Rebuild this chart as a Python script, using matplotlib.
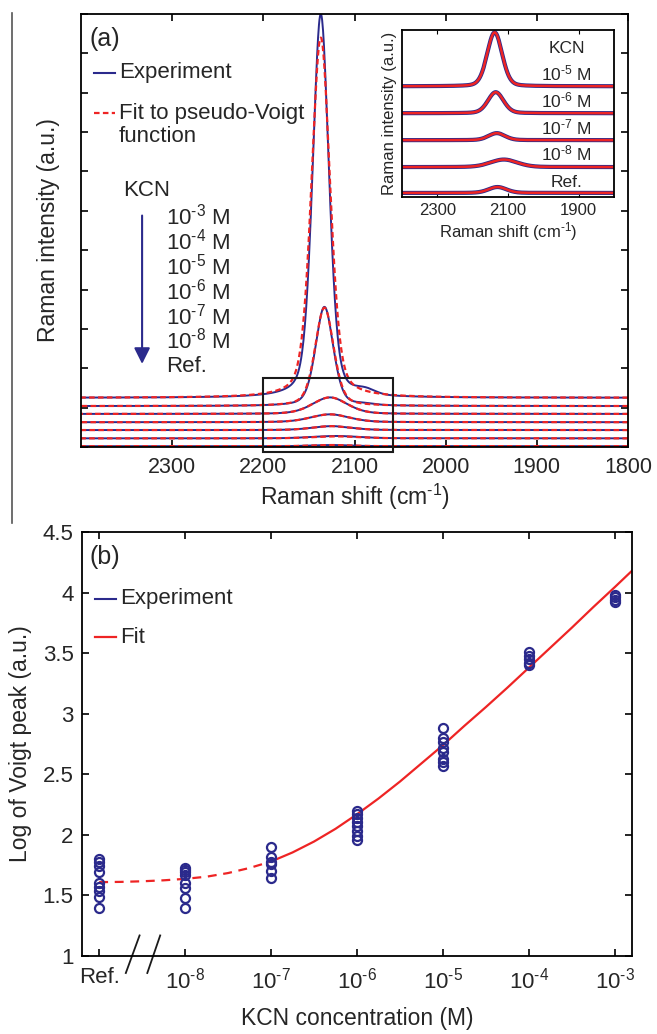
import numpy as np
import matplotlib.pyplot as plt
from matplotlib.lines import Line2D
from matplotlib.patches import Rectangle

plt.rcParams['font.family'] = ['Liberation Sans', 'DejaVu Sans']
plt.rcParams['mathtext.fontset'] = 'custom'
plt.rcParams['mathtext.rm'] = 'Liberation Sans'
plt.rcParams['mathtext.it'] = 'Liberation Sans'

NAVY = '#2b2a8c'
RED = '#ee2424'
TXT = '#262626'

# ---- panel (a): spectra, top to bottom ----
conc_labels = [r'10$^{\text{-3}}$ M', r'10$^{\text{-4}}$ M', r'10$^{\text{-5}}$ M',
               r'10$^{\text{-6}}$ M', r'10$^{\text{-7}}$ M', r'10$^{\text{-8}}$ M', 'Ref.']
offsets = [1.25, 1.04, 0.84, 0.63, 0.43, 0.22, 0.02]
fit_amp = [9.15, 2.50, 0.42, 0.20, 0.10, 0.05, 0.03]
exp_amp = [9.75, 2.52, 0.42, 0.20, 0.10, 0.06, 0.03]
centers = [2137, 2133, 2127, 2127, 2125, 2120, 2125]
fit_fwhm = [24, 24, 45, 50, 50, 60, 50]
exp_fwhm = [21, 23, 45, 50, 50, 60, 50]
eta = [0.35, 0.35, 0.30, 0.30, 0.30, 0.30, 0.30]
# small shoulder seen in the 10^-3 experiment only
shoulder_amp = [0.12, 0.03, 0, 0, 0, 0, 0]
shoulder_pos = 2088

# inset (10^-5 .. Ref)
inset_labels = [r'10$^{\text{-5}}$ M', r'10$^{\text{-6}}$ M', r'10$^{\text{-7}}$ M',
                r'10$^{\text{-8}}$ M', 'Ref.']
inset_offsets = [4.11, 3.11, 2.11, 1.11, 0.15]
inset_amp = [2.00, 0.78, 0.26, 0.28, 0.22]
inset_center = [2138, 2135, 2132, 2112, 2130]
inset_fwhm = [50, 52, 55, 90, 60]

# ---- panel (b): Voigt peak vs concentration ----
xcat_labels = ['Ref.', r'10$^{\text{-8}}$', r'10$^{\text{-7}}$', r'10$^{\text{-6}}$',
               r'10$^{\text{-5}}$', r'10$^{\text{-4}}$', r'10$^{\text{-3}}$']
peaks = [
    [1.80, 1.78, 1.74, 1.69, 1.60, 1.57, 1.54, 1.49, 1.40],
    [1.73, 1.71, 1.69, 1.67, 1.60, 1.56, 1.48, 1.40],
    [1.90, 1.82, 1.78, 1.76, 1.70, 1.64],
    [2.20, 2.17, 2.14, 2.11, 2.07, 2.03, 1.99, 1.96],
    [2.88, 2.80, 2.77, 2.72, 2.68, 2.63, 2.60, 2.57],
    [3.51, 3.48, 3.45, 3.42, 3.40],
    [3.98, 3.96, 3.94, 3.92],
]
fit_x = [0, 0.25, 0.5, 0.75, 1, 1.25, 1.5, 1.75, 2, 2.25, 2.5, 2.75, 3, 3.25,
         3.5, 3.75, 4, 4.25, 4.5, 4.75, 5, 5.25, 5.5, 5.75, 6, 6.2]
fit_y = [1.61, 1.612, 1.617, 1.625, 1.637, 1.655, 1.685, 1.727, 1.78, 1.855, 1.945,
         2.05, 2.17, 2.30, 2.44, 2.59, 2.74, 2.90, 3.055, 3.215, 3.38, 3.545, 3.71,
         3.88, 4.045, 4.18]


def pseudo_voigt(x, amp, c, fwhm, eta):
    u = (x - c) / (fwhm / 2.0)
    return amp * (eta / (1 + u ** 2) + (1 - eta) * np.exp(-np.log(2) * u ** 2))


wn = np.linspace(1800, 2400, 1201)

fig = plt.figure(figsize=(6.57, 10.34), dpi=100)

# ================= (a) =================
ax = fig.add_axes([0.1233, 0.5677, 0.8326, 0.4188])
for i in range(len(offsets)):
    yexp = offsets[i] + pseudo_voigt(wn, exp_amp[i], centers[i], exp_fwhm[i], eta[i])
    yexp += pseudo_voigt(wn, shoulder_amp[i], shoulder_pos, 25, 0.0)
    yfit = offsets[i] + pseudo_voigt(wn, fit_amp[i], centers[i], fit_fwhm[i], eta[i])
    ax.plot(wn, yexp, color=NAVY, lw=1.4)
    ax.plot(wn, yfit, color=RED, lw=1.6, ls=(0, (2.5, 1.5)))

ax.set_xlim(2400, 1800)
ax.set_ylim(0, 11)
ax.set_xticks([2300, 2200, 2100, 2000, 1900, 1800])
ax.set_yticks(np.arange(0, 12, 1))
ax.set_yticklabels([])
ax.tick_params(direction='in', top=True, right=True, length=5, width=1.2,
               labelsize=15.5, labelcolor=TXT, pad=7)
for s in ax.spines.values():
    s.set_linewidth(1.3)
ax.set_xlabel(r'Raman shift (cm$^{\text{-1}}$)', fontsize=16.5, color=TXT, labelpad=3)
ax.set_ylabel('Raman intensity (a.u.)', fontsize=16.5, color=TXT, labelpad=8)

ax.add_patch(Rectangle((2200, -0.13), -142, 1.89, fill=False, ec='#1a1a1a',
                       lw=1.5, clip_on=False, zorder=5))

# legend drawn by hand
ax.plot([0.024, 0.062], [0.864, 0.864], transform=ax.transAxes, color=NAVY, lw=1.5)
ax.plot([0.024, 0.062], [0.771, 0.771], transform=ax.transAxes, color=RED, lw=1.6,
        ls=(0, (2.5, 1.5)))
ax.text(0.069, 0.864, 'Experiment', transform=ax.transAxes, va='center', fontsize=16, color=TXT)
ax.text(0.069, 0.771, 'Fit to pseudo-Voigt', transform=ax.transAxes, va='center',
        fontsize=16, color=TXT)
ax.text(0.069, 0.716, 'function', transform=ax.transAxes, va='center', fontsize=16, color=TXT)
ax.text(0.015, 0.942, '(a)', transform=ax.transAxes, va='center', fontsize=18, color=TXT)

ax.text(2354, 6.51, 'KCN', va='center', ha='left', fontsize=16, color=TXT)
label_y = [5.85, 5.22, 4.58, 3.94, 3.31, 2.70, 2.04]
for lab, yy in zip(conc_labels, label_y):
    ax.text(2307, yy, lab, va='center', ha='left', fontsize=16, color=TXT)
ax.annotate('', xy=(2333, 2.04), xytext=(2333, 5.95),
            arrowprops=dict(arrowstyle='-|>', color=NAVY, lw=1.5, mutation_scale=24))

# inset
axi = fig.add_axes([0.612, 0.8095, 0.3227, 0.1615])
for i in range(len(inset_offsets)):
    y = inset_offsets[i] + pseudo_voigt(wn, inset_amp[i], inset_center[i], inset_fwhm[i], 0.2)
    axi.plot(wn, y, color=NAVY, lw=3.0)
    axi.plot(wn, y, color=RED, lw=1.8)
axi.set_xlim(2400, 1800)
axi.set_ylim(0, 6.2)
axi.set_xticks([2300, 2100, 1900])
axi.set_yticks([])
axi.tick_params(direction='in', top=True, length=3, labelsize=12, labelcolor=TXT, pad=4)
for s in axi.spines.values():
    s.set_linewidth(1.3)
axi.set_xlabel(r'Raman shift (cm$^{\text{-1}}$)', fontsize=12, color=TXT, labelpad=2)
axi.set_ylabel('Raman intensity (a.u.)', fontsize=12, color=TXT, labelpad=4)
axi.text(1935, 5.5, 'KCN', ha='center', va='center', fontsize=12.5, color=TXT)
for lab, yy in zip(inset_labels, inset_offsets):
    axi.text(1935, yy + 0.12, lab, ha='center', va='bottom', fontsize=12.5, color=TXT)

# ================= (b) =================
bx = fig.add_axes([0.1248, 0.0754, 0.8371, 0.4101])
for i, vals in enumerate(peaks):
    bx.plot([i] * len(vals), vals, 'o', mfc='none', mec=NAVY, mew=1.6, ms=6.5, zorder=3)
bx.plot(fit_x[:9], fit_y[:9], color=RED, lw=1.6, ls=(0, (4, 3)))
bx.plot(fit_x[8:], fit_y[8:], color=RED, lw=1.6)
bx.set_xlim(-0.2, 6.2)
bx.set_ylim(1, 4.5)
bx.set_xticks(range(7))
bx.set_xticklabels(xcat_labels)
bx.set_yticks([1, 1.5, 2, 2.5, 3, 3.5, 4, 4.5])
bx.set_yticklabels(['1', '1.5', '2', '2.5', '3', '3.5', '4', '4.5'])
bx.tick_params(direction='in', top=True, right=True, length=5, width=1.2,
               labelsize=16, labelcolor=TXT, pad=6)
bx.tick_params(axis='x', pad=8)
for s in bx.spines.values():
    s.set_linewidth(1.3)
bx.set_xlabel('KCN concentration (M)', fontsize=16.5, color=TXT, labelpad=10)
bx.set_ylabel('Log of Voigt peak (a.u.)', fontsize=16.5, color=TXT, labelpad=8)

# axis break marks
for x0, x1 in [(0.47, 0.31), (0.71, 0.56)]:
    bx.plot([x0, x1], [1.17, 0.86], color='#1a1a1a', lw=1.3, clip_on=False)

bx.plot([0.024, 0.062], [0.842, 0.842], transform=bx.transAxes, color=NAVY, lw=1.5)
bx.plot([0.024, 0.062], [0.752, 0.752], transform=bx.transAxes, color=RED, lw=1.6)
bx.text(0.069, 0.842, 'Experiment', transform=bx.transAxes, va='center', fontsize=16, color=TXT)
bx.text(0.069, 0.752, 'Fit', transform=bx.transAxes, va='center', fontsize=16, color=TXT)
bx.text(0.013, 0.941, '(b)', transform=bx.transAxes, va='center', fontsize=18, color=TXT)

# page rule at the left edge
fig.add_artist(Line2D([12 / 657, 12 / 657], [1 - 13 / 1034, 1 - 523 / 1034],
                      color='#555555', lw=1.2))

fig.savefig('out.png', dpi=100)
